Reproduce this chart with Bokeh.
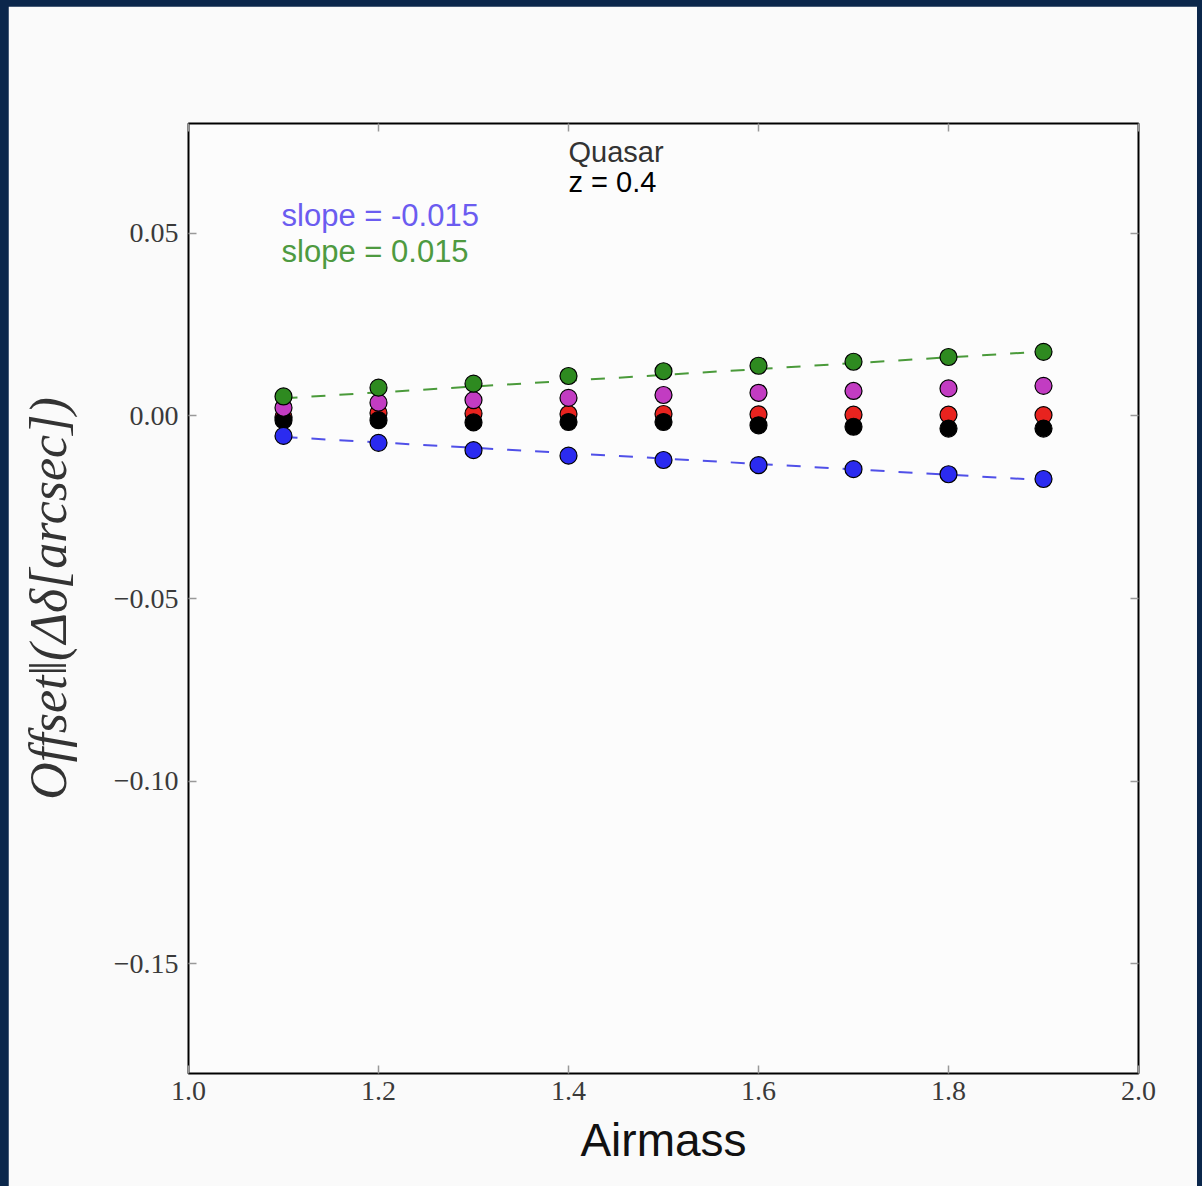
from bokeh.plotting import figure
from bokeh.models import Range1d, LinearAxis, FixedTicker, CustomJSTickFormatter, Label
from bokeh.layouts import column
from bokeh.embed import file_html
from bokeh.resources import INLINE

# ---- data ----
airmass = [1.1, 1.2, 1.3, 1.4, 1.5, 1.6, 1.7, 1.8, 1.9]
green = [0.0053, 0.0077, 0.0088, 0.0109, 0.0122, 0.0137, 0.0148, 0.0161, 0.0175]
magenta = [0.0022, 0.0036, 0.0043, 0.0049, 0.0057, 0.0063, 0.0068, 0.0075, 0.0082]
red = [-0.0003, 0.0008, 0.0006, 0.0005, 0.0005, 0.0004, 0.0003, 0.0003, 0.0002]
black = [-0.0012, -0.0012, -0.0018, -0.0017, -0.0017, -0.0026, -0.0030, -0.0035, -0.0035]
blue = [-0.0055, -0.0074, -0.0094, -0.0109, -0.0121, -0.0135, -0.0146, -0.0160, -0.0173]
fit_x = [1.1, 1.9]
green_fit = [0.0048, 0.0176]
blue_fit = [-0.0058, -0.0176]
x_ticks = [1.0, 1.2, 1.4, 1.6, 1.8, 2.0]
y_ticks = [-0.15, -0.10, -0.05, 0.00, 0.05]
title_lines = ["Quasar", "z = 0.4"]
slope_texts = ["slope = -0.015", "slope = 0.015"]

NAVY = "#0b274b"
BG = "#fafafa"

p = figure(width=1189, height=1180, output_backend="svg", toolbar_location=None,
           x_range=Range1d(1.0, 2.0), y_range=Range1d(-0.18, 0.08),
           min_border_left=180, min_border_right=59, min_border_top=117, min_border_bottom=113,
           background_fill_color="#fcfcfc", border_fill_color=BG)
p.margin = (6, 5, 0, 8)
p.outline_line_color = "black"
p.outline_line_width = 2
p.xgrid.visible = False
p.ygrid.visible = False

serif = "Liberation Serif"
sans = "Liberation Sans"

bottom = p.xaxis[0]
left = p.yaxis[0]

bottom.ticker = FixedTicker(ticks=x_ticks)
bottom.formatter = CustomJSTickFormatter(code="return tick.toFixed(1);")
left.ticker = FixedTicker(ticks=y_ticks)
left.formatter = CustomJSTickFormatter(code="return tick.toFixed(2).replace('-', '\u2212');")

blank = CustomJSTickFormatter(code="return '';")
top = LinearAxis(ticker=FixedTicker(ticks=x_ticks), formatter=blank)
right = LinearAxis(ticker=FixedTicker(ticks=y_ticks), formatter=blank)
p.add_layout(top, "above")
p.add_layout(right, "right")

for ax in [bottom, left, top, right]:
    ax.axis_line_color = None
    ax.major_tick_in = 8
    ax.major_tick_out = 0
    ax.major_tick_line_color = "#999999"
    ax.major_tick_line_width = 1.5
    ax.minor_tick_line_color = None
    ax.major_label_text_font = serif
    ax.major_label_text_font_size = "28px"
    ax.major_label_text_color = "#3a3a3a"

top.major_label_standoff = 0
right.major_label_standoff = 0
bottom.major_label_standoff = 8
left.major_label_standoff = 10

bottom.axis_label = "Airmass"
bottom.axis_label_text_font = sans
bottom.axis_label_text_font_size = "46px"
bottom.axis_label_text_font_style = "normal"
bottom.axis_label_text_color = "#111111"
bottom.axis_label_standoff = 11

left.axis_label = "Offset\u2016(\u0394\u03b4[arcsec])"
left.axis_label_text_font = serif
left.axis_label_text_font_size = "52px"
left.axis_label_text_font_style = "italic"
left.axis_label_text_color = "#333333"
left.axis_label_standoff = 34

# fit lines
p.line(fit_x, green_fit, line_color="#4a9a3a", line_width=2, line_dash="14 14")
p.line(fit_x, blue_fit, line_color="#5050e8", line_width=2, line_dash="14 14")

# points
pt = dict(size=17, line_color="black", line_width=1.2)
p.scatter(airmass, red, fill_color="#e8231f", **pt)
p.scatter(airmass, black, fill_color="#000000", **pt)
p.scatter(airmass, magenta, fill_color="#c23cc2", **pt)
p.scatter(airmass, green, fill_color="#2e8a20", **pt)
p.scatter(airmass, blue, fill_color="#2b2bf0", **pt)

# texts
p.add_layout(Label(x=1.40, y=0.0722, text=title_lines[0], text_font=sans, text_font_size="29px",
                   text_color="#333333", text_baseline="middle", text_align="left"))
p.add_layout(Label(x=1.40, y=0.0640, text=title_lines[1], text_font=sans, text_font_size="29px",
                   text_color="#000000", text_baseline="middle", text_align="left"))
p.add_layout(Label(x=1.098, y=0.0547, text=slope_texts[0], text_font=sans, text_font_size="31px",
                   text_color="#6b5cf0", text_baseline="middle", text_align="left"))
p.add_layout(Label(x=1.098, y=0.0449, text=slope_texts[1], text_font=sans, text_font_size="31px",
                   text_color="#4e9a40", text_baseline="middle", text_align="left"))

layout = column(p, width=1202, height=1186, styles={"background-color": NAVY})

open("out.html", "w").write(file_html(layout, INLINE))
